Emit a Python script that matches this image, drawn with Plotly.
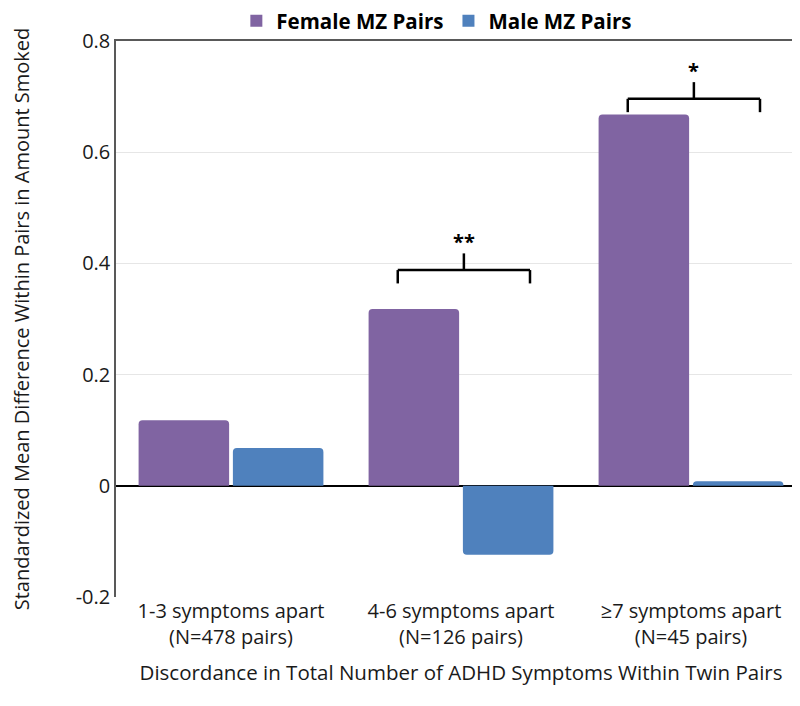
import plotly.graph_objects as go

# Data
categories = ["1-3 symptoms apart<br>(N=478 pairs)",
              "4-6 symptoms apart<br>(N=126 pairs)",
              "\u22657 symptoms apart<br>(N=45 pairs)"]
female_mz = [0.118, 0.318, 0.668]
male_mz = [0.068, -0.124, 0.008]

# significance brackets: category index, bracket height, star label
sig_index = [1, 2]
sig_height = [0.388, 0.696]
sig_label = ["**", "*"]

COLORS = {
    'female': '#8064A2',
    'male': '#4F81BD',
    'text': '#1a1a1a',
    'axis': '#595959',
}
FONT = "Open Sans, Lato, Arial"

x_idx = list(range(len(categories)))

fig = go.Figure()
fig.add_trace(go.Bar(x=x_idx, y=female_mz, name="Female MZ Pairs", showlegend=False,
                     marker=dict(color=COLORS['female'], cornerradius=4, line=dict(width=0))))
fig.add_trace(go.Bar(x=x_idx, y=male_mz, name="Male MZ Pairs", showlegend=False,
                     marker=dict(color=COLORS['male'], cornerradius=4, line=dict(width=0))))

# legend entries with bigger square swatches
for name, col in [("Female MZ Pairs", COLORS['female']), ("Male MZ Pairs", COLORS['male'])]:
    fig.add_trace(go.Scatter(x=[None], y=[None], mode="markers", name=f"<b>{name}</b>",
                             marker=dict(symbol="square", size=20, color=col)))

# brackets with stars
for i, h, lab in zip(sig_index, sig_height, sig_label):
    x0, x1 = i - 0.275, i + 0.3
    xm = (x0 + x1) / 2
    line = dict(color='black', width=2.5)
    fig.add_shape(type="line", x0=x0, x1=x1, y0=h, y1=h, line=line)
    fig.add_shape(type="line", x0=x0, x1=x0, y0=h, y1=h - 0.024, line=line)
    fig.add_shape(type="line", x0=x1, x1=x1, y0=h, y1=h - 0.024, line=line)
    fig.add_shape(type="line", x0=xm, x1=xm, y0=h, y1=h + 0.03, line=line)
    fig.add_annotation(x=xm, y=h + 0.03, text=f"<b>{lab}</b>", showarrow=False,
                       yanchor="bottom", font=dict(size=20, color='black'), yshift=-4)

fig.update_layout(
    width=800, height=706,
    template="plotly_white",
    plot_bgcolor="white",
    paper_bgcolor="white",
    barmode="group",
    bargap=0.18,
    bargroupgap=0.04,
    font=dict(family=FONT, size=20, color=COLORS['text']),
    margin=dict(l=108, r=2, t=33, b=117, autoexpand=False),
    legend=dict(orientation="h", x=0.465, xanchor="center", y=1.0, yanchor="bottom",
                font=dict(size=20.5, color='black'), itemsizing="constant",
                bgcolor="rgba(0,0,0,0)", traceorder="normal", tracegroupgap=0),
)
fig.update_xaxes(
    tickvals=x_idx, ticktext=categories, range=[-0.5, 2.5],
    showgrid=False, zeroline=False, showline=True, linecolor=COLORS['axis'], linewidth=1.5,
    side="top", mirror=False, showticklabels=False, ticks="",
)
# bottom labels on a twin axis so that only the top frame line is drawn
fig.update_layout(xaxis2=dict(
    overlaying="x", anchor="y", side="bottom", matches="x",
    tickvals=x_idx, ticktext=categories, showgrid=False, zeroline=False,
    showline=False, ticks="", tickfont=dict(size=20),
    title=dict(text="Discordance in Total Number of ADHD Symptoms Within Twin Pairs",
               font=dict(size=20.5), standoff=16),
))
fig.add_trace(go.Scatter(x=[None], y=[None], xaxis="x2", showlegend=False, hoverinfo="skip"))
fig.update_yaxes(
    range=[-0.2, 0.8], tickvals=[-0.2, 0, 0.2, 0.4, 0.6, 0.8],
    ticktext=["-0.2", "0", "0.2", "0.4", "0.6", "0.8"],
    showgrid=True, gridcolor="#e6e6e6",
    showline=True, linecolor=COLORS['axis'], linewidth=1.5, mirror=True,
    zeroline=True, zerolinecolor="black", zerolinewidth=2,
    tickfont=dict(size=20), ticks="", automargin=False,
    title=dict(text="Standardized Mean Difference Within Pairs in Amount Smoked",
               font=dict(size=20), standoff=46),
)

fig.write_html("out.html")
